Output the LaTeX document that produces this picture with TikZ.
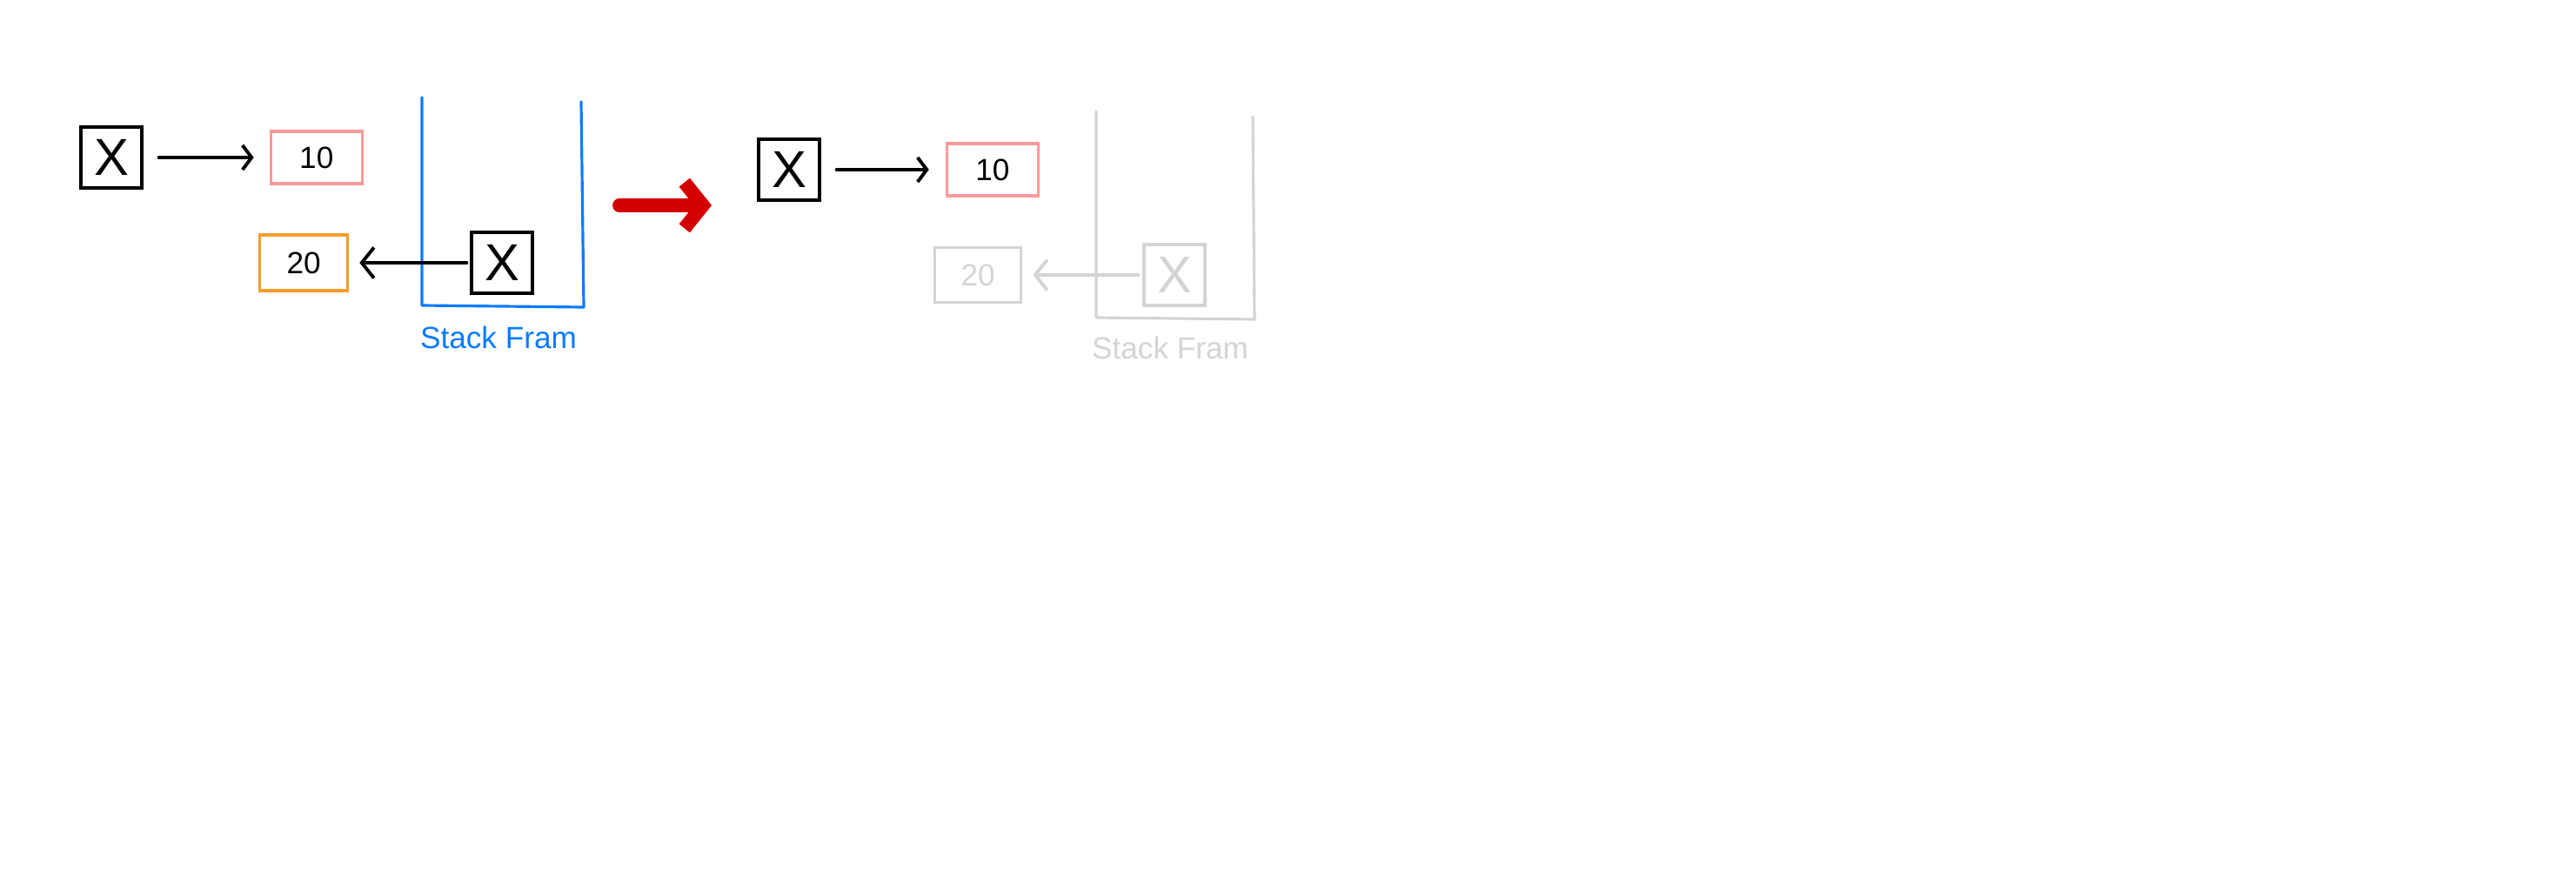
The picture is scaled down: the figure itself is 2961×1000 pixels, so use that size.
\documentclass[tikz,border=0pt]{standalone}
\usepackage{fontspec}
\setmainfont{Liberation Sans}
\usepackage{xcolor}
\definecolor{frameblue}{RGB}{10,123,255}
\definecolor{tenpink}{RGB}{255,153,153}
\definecolor{twentyorange}{RGB}{245,157,42}
\definecolor{movered}{RGB}{212,0,0}
\definecolor{faded}{RGB}{212,212,212}
\usepackage{tikz}
\usetikzlibrary{arrows.meta,positioning}

\begin{document}
\begin{tikzpicture}[
    x=0.01cm, y=-0.01cm,
    var/.style={rectangle, draw, line width=0.9pt, minimum width=0.7cm, minimum height=0.7cm, inner sep=0pt, font=\fontsize{17}{17}\selectfont},
    value/.style={rectangle, draw, line width=0.9pt, minimum width=1.05cm, minimum height=0.6cm, inner sep=0pt, font=\fontsize{10}{10}\selectfont},
    arrow/.style={-{Straight Barb[length=3pt,width=8pt]}, line width=1.1pt, line cap=round},
    stackframe/.style={line width=0.9pt, line cap=round, line join=round},
    framelabel/.style={font=\fontsize{10}{10}\selectfont},
    bigarrow/.style={-{Straight Barb[length=6pt,width=15pt]}, line width=4.5pt, line cap=round, line join=round, draw=movered}
]
\useasboundingbox (0,0) rectangle (2961,1000);

% before
\node[var] (x_heap) at (128,181) {X};
\node[value, draw=tenpink, right=1.45cm of x_heap] (ten) {10};
\draw[arrow, shorten <=0.18cm, shorten >=0.18cm] (x_heap) -- (ten);

\draw[stackframe, draw=frameblue] (485,112) -- (485,351) -- (671,353) -- (668,117);
\node[framelabel, text=frameblue] (frame_l) at (573,388) {Stack Fram};

\node[var] (x_stack) at (577,302) {X};
\node[value, draw=twentyorange, minimum width=1.01cm, minimum height=0.64cm, left=1.39cm of x_stack] (twenty) {20};
\draw[arrow, -{Straight Barb[length=4pt,width=10pt]}, shorten <=0.04cm, shorten >=0.12cm] (x_stack) -- (twenty);

% move
\coordinate (move_a) at (712,236);
\coordinate (move_b) at (818,236);
\draw[bigarrow] (move_a) -- (move_b);

% after
\node[var] (x_heap2) at (907,195) {X};
\node[value, draw=tenpink, right=1.43cm of x_heap2] (ten2) {10};
\draw[arrow, shorten <=0.18cm, shorten >=0.19cm] (x_heap2) -- (ten2);

\draw[stackframe, draw=faded] (1260,128) -- (1260,365) -- (1442,367) -- (1440,134);
\node[framelabel, text=faded] (frame_l2) at (1345,400) {Stack Fram};

\node[var, draw=faded, text=faded] (x_stack2) at (1350,316) {X};
\node[value, draw=faded, text=faded, minimum width=0.99cm, minimum height=0.63cm, left=1.38cm of x_stack2] (twenty2) {20};
\draw[arrow, draw=faded, -{Straight Barb[length=4pt,width=10pt]}, shorten <=0.05cm, shorten >=0.12cm] (x_stack2) -- (twenty2);

\end{tikzpicture}
\end{document}
